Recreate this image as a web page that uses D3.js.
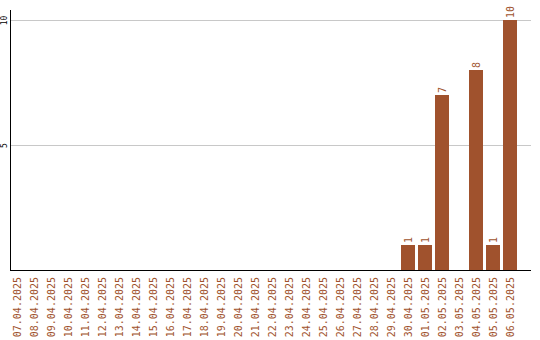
<!DOCTYPE html>
<html>
<head>
<meta charset="utf-8">
<script src="https://cdn.jsdelivr.net/npm/d3@7"></script>
<style>
  html, body { margin: 0; padding: 0; background: #fff; }
  svg { display: block; }
</style>
</head>
<body>
<svg id="chart" width="540" height="340"></svg>
<script>
// Daily counts, 07.04.2025 – 06.05.2025
const dates = [
  "07.04.2025", "08.04.2025", "09.04.2025", "10.04.2025", "11.04.2025",
  "12.04.2025", "13.04.2025", "14.04.2025", "15.04.2025", "16.04.2025",
  "17.04.2025", "18.04.2025", "19.04.2025", "20.04.2025", "21.04.2025",
  "22.04.2025", "23.04.2025", "24.04.2025", "25.04.2025", "26.04.2025",
  "27.04.2025", "28.04.2025", "29.04.2025", "30.04.2025", "01.05.2025",
  "02.05.2025", "03.05.2025", "04.05.2025", "05.05.2025", "06.05.2025"
];
const counts = [
  0, 0, 0, 0, 0,
  0, 0, 0, 0, 0,
  0, 0, 0, 0, 0,
  0, 0, 0, 0, 0,
  0, 0, 0, 1, 1,
  7, 0, 8, 1, 10
];
const yTicks = [5, 10];

const barColor = "#a0522d";
const mono = "'DejaVu Sans Mono', 'Liberation Mono', monospace";

const svg = d3.select("#chart");

const plotLeft = 10, plotRight = 531, plotTop = 10, plotBase = 270;

const x = d3.scaleBand()
  .domain(dates)
  .range([10, 10 + 30 * 17 - 3])
  .paddingInner(3 / 17)
  .paddingOuter(0);

const y = d3.scaleLinear()
  .domain([0, 10])
  .range([plotBase, 20]);

// horizontal grid lines
svg.append("g")
  .selectAll("line")
  .data(yTicks)
  .join("line")
  .attr("x1", plotLeft)
  .attr("x2", plotRight)
  .attr("y1", d => Math.round(y(d)) + 0.5)
  .attr("y2", d => Math.round(y(d)) + 0.5)
  .attr("stroke", "#c8c8c8")
  .attr("stroke-width", 1);

// bars
const rows = dates.map((d, i) => ({ date: d, value: counts[i] }));
svg.append("g")
  .selectAll("rect")
  .data(rows.filter(r => r.value > 0))
  .join("rect")
  .attr("x", d => x(d.date))
  .attr("y", d => y(d.value))
  .attr("width", x.bandwidth())
  .attr("height", d => y(0) - y(d.value))
  .attr("fill", barColor);

// value labels above bars, rotated
svg.append("g")
  .selectAll("text")
  .data(rows.filter(r => r.value > 0))
  .join("text")
  .attr("transform", d => `translate(${x(d.date) + x.bandwidth() / 2 + 4},${y(d.value) - 2}) rotate(-90)`)
  .attr("text-anchor", "start")
  .attr("font-family", mono)
  .attr("font-size", 10)
  .attr("fill", barColor)
  .text(d => d.value);

// x axis (category labels rotated)
const xAxis = svg.append("g")
  .attr("transform", `translate(0,${plotBase})`)
  .call(d3.axisBottom(x).tickSize(0).tickPadding(0));
xAxis.select(".domain").remove();
xAxis.selectAll("text")
  .attr("y", 0)
  .attr("dy", 0)
  .attr("transform", "translate(4,7) rotate(-90)")
  .attr("text-anchor", "end")
  .attr("font-family", mono)
  .attr("font-size", 10)
  .attr("fill", barColor);

// y axis (tick labels rotated)
const yAxis = svg.append("g")
  .attr("transform", `translate(${plotLeft},0)`)
  .call(d3.axisLeft(y).tickValues(yTicks).tickSize(0).tickPadding(0));
yAxis.select(".domain").remove();
yAxis.selectAll("text")
  .attr("x", 0)
  .attr("dy", 0)
  .attr("transform", "translate(-3,0) rotate(-90)")
  .attr("text-anchor", "middle")
  .attr("font-family", mono)
  .attr("font-size", 8)
  .attr("fill", "#000");

// axis lines
svg.append("line")
  .attr("x1", plotLeft + 0.5).attr("x2", plotLeft + 0.5)
  .attr("y1", plotTop).attr("y2", plotBase + 1)
  .attr("stroke", "#000").attr("stroke-width", 1);
svg.append("line")
  .attr("x1", plotLeft).attr("x2", plotRight)
  .attr("y1", plotBase + 0.5).attr("y2", plotBase + 0.5)
  .attr("stroke", "#000").attr("stroke-width", 1);
</script>
</body>
</html>
